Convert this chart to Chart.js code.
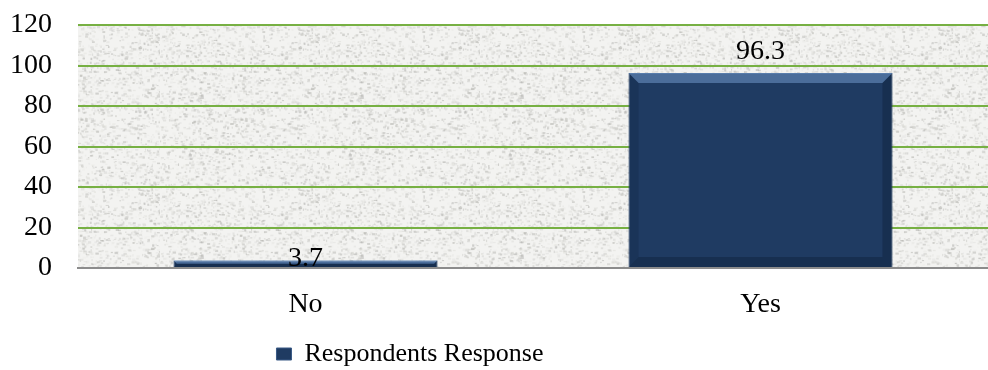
<!DOCTYPE html>
<html>
<head>
<meta charset="utf-8">
<script src="https://cdn.jsdelivr.net/npm/chart.js@4"></script>
<style>
  html, body { margin: 0; padding: 0; background: #fff; }
  #wrap { width: 988px; height: 370px; }
</style>
</head>
<body>
<div id="wrap"><canvas id="chart" width="988" height="370"></canvas></div>
<script>
// data
const categories = ['No', 'Yes'];
const responseValues = [3.7, 96.3];
const seriesLabel = 'Respondents Response';
const yTicks = [0, 20, 40, 60, 80, 100, 120];

const FONT = '"Liberation Serif", "Times New Roman", serif';
const FSIZE = 28;

// granite-ish texture for the plot background (decoration only)
function makeTexture() {
    const c = document.createElement('canvas');
    c.width = 160; c.height = 160;
    const g = c.getContext('2d');
    g.fillStyle = '#f3f3f1';
    g.fillRect(0, 0, 160, 160);
    let s = 12345;
    const rnd = () => { s = (s * 16807) % 2147483647; return s / 2147483647; };
    for (let i = 0; i < 2600; i++) {
        const v = 170 + Math.floor(rnd() * 70);
        g.fillStyle = `rgba(${v},${v},${v - 4},${0.2 + rnd() * 0.4})`;
        g.fillRect(rnd() * 160, rnd() * 160, 1 + rnd() * 2.5, 1 + rnd() * 1.5);
    }
    return c;
}

const texturePlugin = {
    id: 'texture',
    beforeDraw(chart) {
        const {ctx, chartArea: a} = chart;
        ctx.save();
        ctx.fillStyle = ctx.createPattern(makeTexture(), 'repeat');
        ctx.fillRect(a.left, a.top, a.right - a.left, a.bottom - a.top);
        ctx.restore();
    }
};

// the legend sits left of centre in the original
const legendShift = {
    id: 'legendShift',
    afterLayout(chart) {
        chart.legend.left -= 84;
        chart.legend.right -= 84;
    }
};

// bevel look on the bars + value labels
const barExtras = {
    id: 'barExtras',
    afterDatasetsDraw(chart) {
        const ctx = chart.ctx;
        const meta = chart.getDatasetMeta(0);
        meta.data.forEach((bar, i) => {
            const l = bar.x - bar.width / 2, r = bar.x + bar.width / 2;
            const t = bar.y, b = bar.base;
            const bev = Math.min(10, (b - t) / 2);
            ctx.save();
            ctx.fillStyle = 'rgba(120,160,210,0.5)';
            ctx.beginPath();
            ctx.moveTo(l, t); ctx.lineTo(r, t); ctx.lineTo(r - bev, t + bev); ctx.lineTo(l + bev, t + bev);
            ctx.closePath(); ctx.fill();
            ctx.fillStyle = 'rgba(10,25,50,0.35)';
            ctx.beginPath();
            ctx.moveTo(r, t); ctx.lineTo(r, b); ctx.lineTo(r - bev, b - bev); ctx.lineTo(r - bev, t + bev);
            ctx.closePath(); ctx.fill();
            ctx.beginPath();
            ctx.moveTo(l, b); ctx.lineTo(r, b); ctx.lineTo(r - bev, b - bev); ctx.lineTo(l + bev, b - bev);
            ctx.closePath(); ctx.fill();
            ctx.fillStyle = 'rgba(10,25,50,0.2)';
            ctx.beginPath();
            ctx.moveTo(l, t); ctx.lineTo(l, b); ctx.lineTo(l + bev, b - bev); ctx.lineTo(l + bev, t + bev);
            ctx.closePath(); ctx.fill();

            // value label: short bars get it overlapping, tall ones above
            ctx.fillStyle = '#000';
            ctx.font = FSIZE + 'px ' + FONT;
            ctx.textAlign = 'center';
            ctx.textBaseline = 'alphabetic';
            const tall = (b - t) > 30;
            ctx.fillText(String(responseValues[i]), bar.x, tall ? t - 14 : t + 5);
            ctx.restore();
        });
    }
};

new Chart(document.getElementById('chart').getContext('2d'), {
    type: 'bar',
    data: {
        labels: categories,
        datasets: [{
            label: seriesLabel,
            data: responseValues,
            backgroundColor: '#1f3b62',
            borderColor: '#3a5b86',
            borderWidth: 1,
            barPercentage: 0.58,
            categoryPercentage: 1
        }]
    },
    options: {
        responsive: false,
        animation: false,
        layout: { padding: { top: 25, right: 0, left: 0, bottom: -7 } },
        plugins: {
            tooltip: { enabled: false },
            legend: {
                position: 'bottom',
                labels: {
                    color: '#000',
                    font: { family: FONT, size: 26 },
                    boxWidth: 15,
                    boxHeight: 12,
                    padding: 4
                }
            }
        },
        scales: {
            y: {
                min: 0,
                max: 120,
                afterBuildTicks(scale) { scale.ticks = yTicks.map(v => ({ value: v })); },
                afterFit(scale) {
                    scale.width = 78;
                    scale.paddingTop = 0;
                    scale.paddingBottom = 0;
                },
                border: { display: false },
                grid: {
                    color: ctx => ctx.tick.value === 0 ? 'rgba(0,0,0,0)' : '#77b043',
                    lineWidth: 2,
                    drawTicks: false
                },
                ticks: {
                    color: '#000',
                    padding: 26,
                    autoSkip: false,
                    font: { family: FONT, size: FSIZE }
                }
            },
            x: {
                afterFit(scale) { scale.height = 69; },
                border: { display: true, color: '#8c8c8c', width: 2 },
                grid: { display: false, drawTicks: false },
                ticks: {
                    color: '#000',
                    padding: 20,
                    font: { family: FONT, size: FSIZE }
                }
            }
        }
    },
    plugins: [texturePlugin, legendShift, barExtras]
});
</script>
</body>
</html>
